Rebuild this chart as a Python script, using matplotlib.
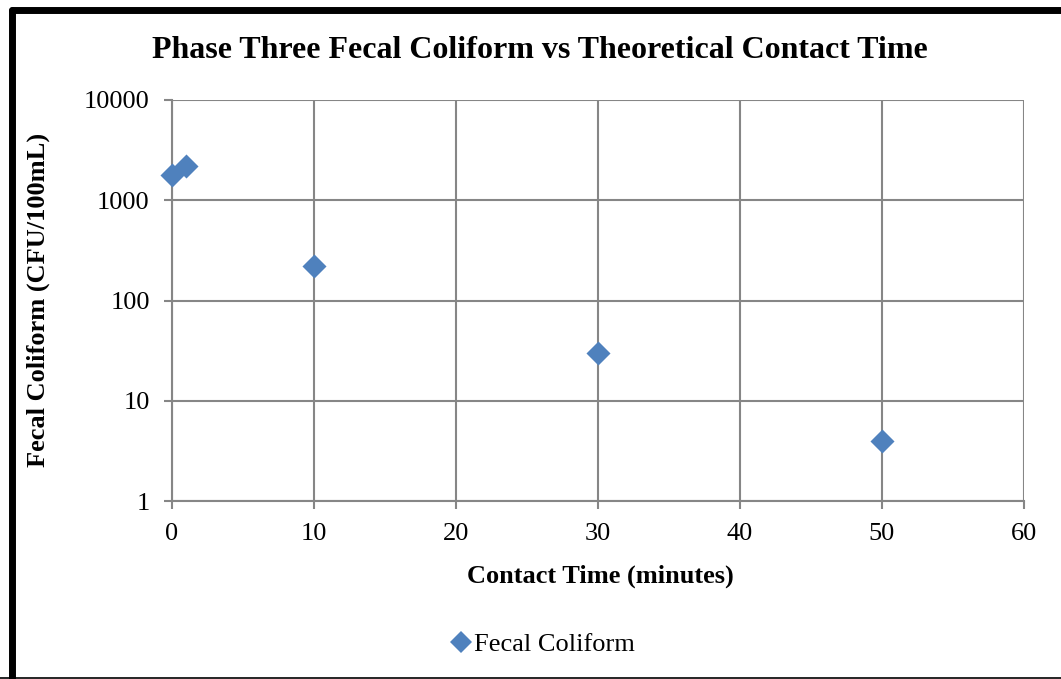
import matplotlib
matplotlib.use("Agg")
import matplotlib.pyplot as plt
from matplotlib.lines import Line2D

contact_time = [0, 1, 10, 30, 50]
fecal_coliform = [1800, 2200, 220, 30, 4]
x_ticks = [0, 10, 20, 30, 40, 50, 60]
y_ticks = [1, 10, 100, 1000, 10000]
y_tick_labels = ["1", "10", "100", "1000", "10000"]

plt.rcParams['font.family'] = ['Liberation Serif', 'DejaVu Serif']

W, H = 1061, 679
fig = plt.figure(figsize=(W / 100, H / 100), dpi=100)
ax = fig.add_axes([172 / W, 1 - 501 / H, (1024 - 172) / W, (501 - 100) / H])

grid_c = '#868686'
ax.scatter(contact_time, fecal_coliform, marker='D', s=150, color='#4F81BD',
           zorder=3, label='Fecal Coliform', linewidths=0, clip_on=False)
ax.set_yscale('log')
ax.set_xlim(0, 60)
ax.set_ylim(1, 10000)
ax.set_xticks(x_ticks)
ax.set_xticklabels([str(v) for v in x_ticks])
ax.set_yticks(y_ticks)
ax.set_yticklabels(y_tick_labels)
ax.yaxis.set_minor_locator(matplotlib.ticker.NullLocator())
ax.grid(True, color=grid_c, linewidth=1.5)
for s in ['top', 'right']:
    ax.spines[s].set_visible(False)
for s in ['left', 'bottom']:
    ax.spines[s].set_color(grid_c)
    ax.spines[s].set_linewidth(1.5)
ax.tick_params(axis='both', colors=grid_c, labelcolor='black', labelsize=19,
               length=6, width=1.5, direction='out')
ax.tick_params(axis='x', pad=10)
ax.tick_params(axis='y', pad=10)
ax.set_axisbelow(True)

fig.text(540 / W, 1 - 51 / H, 'Phase Three Fecal Coliform vs Theoretical Contact Time',
         ha='center', va='center', fontsize=23, fontweight='bold')
fig.text(600 / W, 1 - 576 / H, 'Contact Time (minutes)', ha='center', va='center',
         fontsize=19, fontweight='bold')
fig.text(38 / W, 1 - 300 / H, 'Fecal Coliform (CFU/100mL)', ha='center', va='center',
         fontsize=19, fontweight='bold', rotation=90)

leg = fig.legend(handles=[Line2D([], [], marker='D', linestyle='none', color='#4F81BD',
                                  markersize=11, markeredgewidth=0)],
                 labels=['Fecal Coliform'], loc='center', bbox_to_anchor=(541 / W, 1 - 644 / H),
                 frameon=False, fontsize=19, handletextpad=0.0, handlelength=1.0)

# figure border
fig.add_artist(Line2D([11.5 / W, 11.5 / W], [1 - 9.5 / H, -0.01], transform=fig.transFigure,
                      color='black', linewidth=5, solid_capstyle='round',
                      solid_joinstyle='round'))
fig.add_artist(Line2D([11.5 / W, 1.01], [1 - 9.5 / H, 1 - 9.5 / H], transform=fig.transFigure,
                      color='black', linewidth=5, solid_capstyle='round'))
fig.add_artist(Line2D([0, 1], [1 - 677.5 / H, 1 - 677.5 / H], transform=fig.transFigure,
                      color='black', linewidth=1.2))

fig.savefig('out.png', dpi=100)
